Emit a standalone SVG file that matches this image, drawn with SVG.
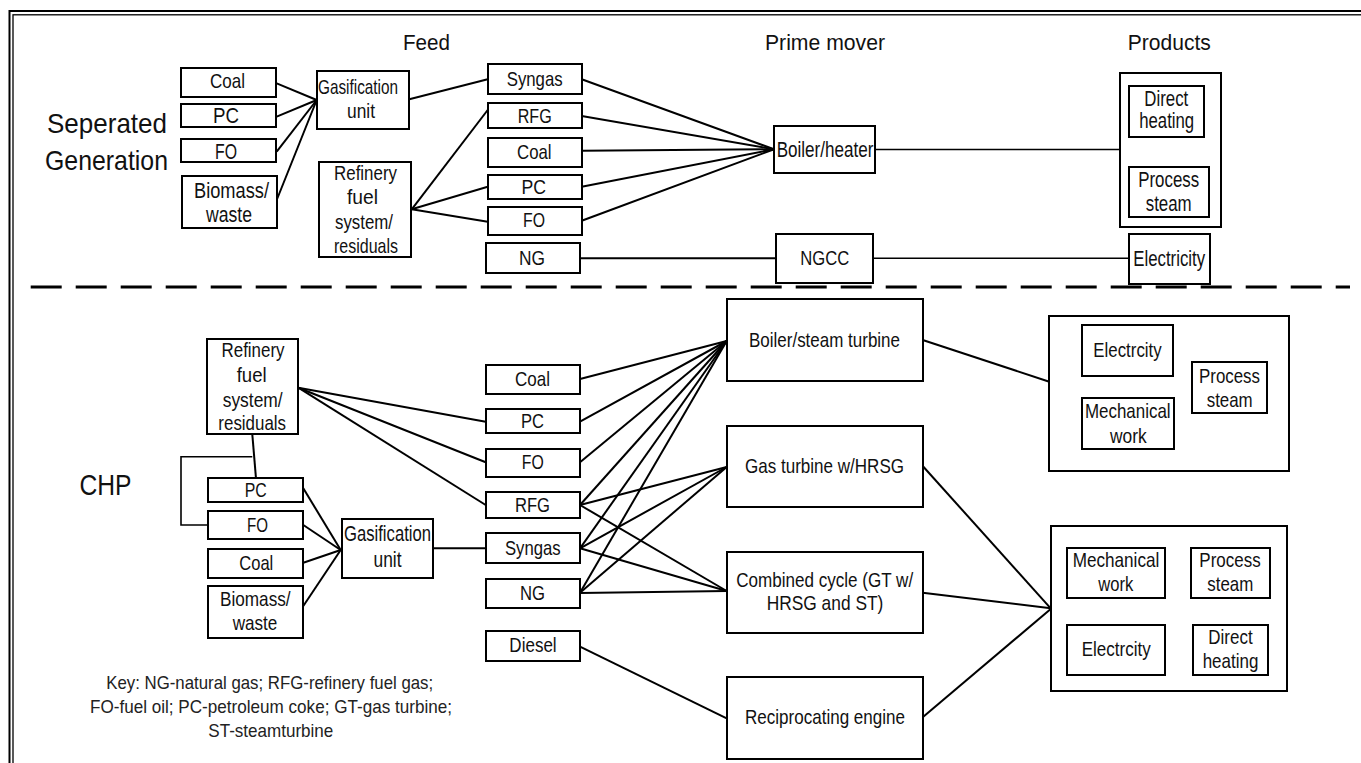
<svg xmlns="http://www.w3.org/2000/svg" width="1361" height="763" viewBox="0 0 1361 763">
  <style>
    .bx { fill: #fff; stroke: #000; stroke-width: 2; }
    .ln { fill: none; stroke: #000; stroke-width: 2; }
    .ln1 { fill: none; stroke: #000; stroke-width: 1.6; }
    text { font-family: "Liberation Sans", Arial, sans-serif; fill: #111; text-anchor: middle; }
    .t20 { font-size: 21px; }
    .t21 { font-size: 22px; }
    .hd { font-size: 22.5px; }
    .big { font-size: 28px; }
    .key { font-size: 18.5px; fill: #222; }
  </style>

  <!-- double frame, runs off the right and bottom edges -->
  <g id="frame">
    <rect x="9.5" y="11" width="1400" height="800" fill="none" stroke="#000" stroke-width="2"/>
    <rect x="13" y="14.8" width="1400" height="800" fill="none" stroke="#000" stroke-width="1.3"/>
  </g>

  <!-- divider between the two schemes -->
  <line id="divider" x1="30.7" y1="287" x2="1350" y2="287" stroke="#000" stroke-width="3" stroke-dasharray="31 14"/>

  <!-- column headings and section titles -->
  <g id="labels">
    <text class="hd" x="426.5" y="50" textLength="47" lengthAdjust="spacingAndGlyphs">Feed</text>
    <text class="hd" x="825" y="50" textLength="120" lengthAdjust="spacingAndGlyphs">Prime mover</text>
    <text class="hd" x="1169.3" y="49.5" textLength="83" lengthAdjust="spacingAndGlyphs">Products</text>
    <text class="big" x="107" y="133" textLength="120" lengthAdjust="spacingAndGlyphs">Seperated</text>
    <text class="big" x="106.5" y="170" textLength="123" lengthAdjust="spacingAndGlyphs">Generation</text>
    <text style="font-size:30px" x="105.5" y="495" textLength="52" lengthAdjust="spacingAndGlyphs">CHP</text>
    <text class="key" x="269.7" y="689.3" textLength="327" lengthAdjust="spacingAndGlyphs">Key: NG-natural gas; RFG-refinery fuel gas;</text>
    <text class="key" x="271" y="713.3" textLength="362" lengthAdjust="spacingAndGlyphs">FO-fuel oil; PC-petroleum coke; GT-gas turbine;</text>
    <text class="key" x="270.8" y="737.3" textLength="125" lengthAdjust="spacingAndGlyphs">ST-steamturbine</text>
  </g>

  <!-- connectors -->
  <g id="connectors">
    <!-- separated generation -->
    <line class="ln" x1="276.7" y1="83.3" x2="316.7" y2="100"/>
    <line class="ln" x1="276.7" y1="116.7" x2="316.7" y2="100"/>
    <line class="ln" x1="276.7" y1="151.7" x2="316.7" y2="100"/>
    <line class="ln" x1="276.7" y1="200" x2="316.7" y2="100"/>
    <line class="ln" x1="409.3" y1="99.3" x2="487.7" y2="79.3"/>
    <line class="ln" x1="411.7" y1="209.3" x2="487.7" y2="110"/>
    <line class="ln" x1="411.7" y1="209.3" x2="487.7" y2="186.7"/>
    <line class="ln" x1="411.7" y1="209.3" x2="487.7" y2="221.7"/>
    <line class="ln" x1="581.7" y1="79.3" x2="774" y2="149.3"/>
    <line class="ln" x1="581.7" y1="116" x2="774" y2="149.3"/>
    <line class="ln" x1="581.7" y1="150.7" x2="774" y2="149.3"/>
    <line class="ln" x1="581.7" y1="186.7" x2="774" y2="149.3"/>
    <line class="ln" x1="581.7" y1="220.7" x2="774" y2="149.3"/>
    <line class="ln" x1="580" y1="258.3" x2="776" y2="258.3"/>
    <line class="ln1" x1="875" y1="149.5" x2="1120" y2="149.5"/>
    <line class="ln1" x1="873" y1="258.3" x2="1129" y2="258.3"/>

    <!-- CHP -->
    <line class="ln" x1="252.3" y1="434.3" x2="256" y2="478.3"/>
    <polyline class="ln1" points="252.3,456.7 181,456.7 181,525 208.3,525"/>
    <line class="ln" x1="298.3" y1="387.7" x2="485.7" y2="421.7"/>
    <line class="ln" x1="298.3" y1="387.7" x2="485.7" y2="462.3"/>
    <line class="ln" x1="298.3" y1="387.7" x2="485.7" y2="505"/>
    <line class="ln" x1="303.3" y1="488.3" x2="340.7" y2="550"/>
    <line class="ln" x1="303.3" y1="525" x2="340.7" y2="550"/>
    <line class="ln" x1="303.3" y1="562.7" x2="340.7" y2="550"/>
    <line class="ln" x1="303.3" y1="606" x2="340.7" y2="550"/>
    <line class="ln" x1="433.3" y1="548.3" x2="485.7" y2="548.3"/>

    <line class="ln" x1="580" y1="379" x2="726.7" y2="341"/>
    <line class="ln" x1="580" y1="421.7" x2="726.7" y2="341"/>
    <line class="ln" x1="580" y1="462.3" x2="726.7" y2="341"/>
    <line class="ln" x1="580" y1="505" x2="726.7" y2="341"/>
    <line class="ln" x1="580" y1="548.3" x2="726.7" y2="341"/>
    <line class="ln" x1="580" y1="592.7" x2="726.7" y2="341"/>

    <line class="ln" x1="580" y1="505" x2="726.7" y2="467"/>
    <line class="ln" x1="580" y1="548.3" x2="726.7" y2="467"/>
    <line class="ln" x1="580" y1="592.7" x2="726.7" y2="467"/>

    <line class="ln" x1="580" y1="505" x2="726.7" y2="591"/>
    <line class="ln" x1="580" y1="548.3" x2="726.7" y2="591"/>
    <line class="ln" x1="580" y1="593" x2="726.7" y2="591"/>

    <line class="ln" x1="580" y1="646.7" x2="726.7" y2="718.3"/>

    <line class="ln" x1="922.7" y1="340" x2="1049.3" y2="381.7"/>
    <line class="ln" x1="922.7" y1="466" x2="1050.7" y2="608.3"/>
    <line class="ln" x1="922.7" y1="592.7" x2="1050.7" y2="608.3"/>
    <line class="ln" x1="922.7" y1="717.3" x2="1050.7" y2="609"/>
  </g>

  <!-- ===== Separated generation: feeds ===== -->
  <g id="sg-coal">
    <rect class="bx" x="181" y="68" width="95" height="29"/>
    <text class="t20" x="227.5" y="88.3" textLength="35" lengthAdjust="spacingAndGlyphs">Coal</text>
  </g>
  <g id="sg-pc">
    <rect class="bx" x="181" y="104" width="95" height="23"/>
    <text class="t21" x="226" y="123" textLength="26" lengthAdjust="spacingAndGlyphs">PC</text>
  </g>
  <g id="sg-fo">
    <rect class="bx" x="181" y="139" width="95" height="23"/>
    <text class="t21" x="226" y="159" textLength="22" lengthAdjust="spacingAndGlyphs">FO</text>
  </g>
  <g id="sg-biomass">
    <rect class="bx" x="182" y="176" width="95" height="52"/>
    <text class="t21" x="231.5" y="198.3" textLength="75" lengthAdjust="spacingAndGlyphs">Biomass/</text>
    <text class="t21" x="229" y="221.7" textLength="46" lengthAdjust="spacingAndGlyphs">waste</text>
  </g>
  <g id="sg-gasification">
    <rect class="bx" x="317" y="71" width="92" height="58"/>
    <text class="t20" x="358" y="94.3" textLength="80" lengthAdjust="spacingAndGlyphs">Gasification</text>
    <text class="t20" x="361" y="118.3" textLength="28" lengthAdjust="spacingAndGlyphs">unit</text>
  </g>
  <g id="sg-refinery">
    <rect class="bx" x="319" y="162" width="92" height="95"/>
    <text class="t20" x="365.5" y="180" textLength="63" lengthAdjust="spacingAndGlyphs">Refinery</text>
    <text class="t20" x="362.5" y="204.3" textLength="31" lengthAdjust="spacingAndGlyphs">fuel</text>
    <text class="t20" x="364" y="229" textLength="58" lengthAdjust="spacingAndGlyphs">system/</text>
    <text class="t20" x="366" y="253" textLength="64" lengthAdjust="spacingAndGlyphs">residuals</text>
  </g>

  <g id="sg-syngas">
    <rect class="bx" x="488" y="64" width="94" height="30"/>
    <text class="t20" x="534.7" y="86" textLength="56" lengthAdjust="spacingAndGlyphs">Syngas</text>
  </g>
  <g id="sg-rfg">
    <rect class="bx" x="488" y="103" width="94" height="25"/>
    <text class="t20" x="534.7" y="122.7" textLength="34" lengthAdjust="spacingAndGlyphs">RFG</text>
  </g>
  <g id="sg-coal2">
    <rect class="bx" x="488" y="138" width="94" height="29"/>
    <text class="t20" x="534.3" y="159.3" textLength="34.5" lengthAdjust="spacingAndGlyphs">Coal</text>
  </g>
  <g id="sg-pc2">
    <rect class="bx" x="488" y="175" width="94" height="24"/>
    <text class="t20" x="533.8" y="194" textLength="24.5" lengthAdjust="spacingAndGlyphs">PC</text>
  </g>
  <g id="sg-fo2">
    <rect class="bx" x="488" y="207" width="94" height="28"/>
    <text class="t20" x="534" y="227.3" textLength="22" lengthAdjust="spacingAndGlyphs">FO</text>
  </g>
  <g id="sg-ng">
    <rect class="bx" x="486" y="243" width="94" height="30"/>
    <text class="t20" x="532" y="265" textLength="26" lengthAdjust="spacingAndGlyphs">NG</text>
  </g>

  <!-- Separated generation: prime movers -->
  <g id="sg-boiler">
    <rect class="bx" x="774" y="126" width="101" height="47"/>
    <text class="t21" x="825" y="157.3" textLength="96.7" lengthAdjust="spacingAndGlyphs">Boiler/heater</text>
  </g>
  <g id="sg-ngcc">
    <rect class="bx" x="776" y="234" width="97" height="49"/>
    <text class="t20" x="824.7" y="265" textLength="49" lengthAdjust="spacingAndGlyphs">NGCC</text>
  </g>

  <!-- Separated generation: products -->
  <g id="sg-heat-products">
    <rect class="bx" x="1120" y="73" width="101" height="154"/>
    <rect class="bx" x="1129" y="86" width="75" height="51"/>
    <text class="t21" x="1166.3" y="106" textLength="44" lengthAdjust="spacingAndGlyphs">Direct</text>
    <text class="t21" x="1166.7" y="128.3" textLength="55" lengthAdjust="spacingAndGlyphs">heating</text>
    <rect class="bx" x="1129" y="167" width="80" height="50"/>
    <text class="t21" x="1168.7" y="186.7" textLength="61" lengthAdjust="spacingAndGlyphs">Process</text>
    <text class="t21" x="1168.7" y="210.7" textLength="46" lengthAdjust="spacingAndGlyphs">steam</text>
  </g>
  <g id="sg-electricity">
    <rect class="bx" x="1129" y="234" width="81" height="50"/>
    <text class="t21" x="1169.2" y="265.7" textLength="72" lengthAdjust="spacingAndGlyphs">Electricity</text>
  </g>

  <!-- ===== CHP: feeds ===== -->
  <g id="chp-refinery">
    <rect class="bx" x="207" y="339" width="91" height="95"/>
    <text class="t20" x="253" y="356.7" textLength="63" lengthAdjust="spacingAndGlyphs">Refinery</text>
    <text class="t20" x="251.7" y="381.7" textLength="30" lengthAdjust="spacingAndGlyphs">fuel</text>
    <text class="t20" x="252.7" y="406.7" textLength="60" lengthAdjust="spacingAndGlyphs">system/</text>
    <text class="t20" x="252.2" y="430" textLength="67.7" lengthAdjust="spacingAndGlyphs">residuals</text>
  </g>
  <g id="chp-pc">
    <rect class="bx" x="208" y="478" width="95" height="24"/>
    <text class="t20" x="255.8" y="497.3" textLength="22" lengthAdjust="spacingAndGlyphs">PC</text>
  </g>
  <g id="chp-fo">
    <rect class="bx" x="208" y="511" width="95" height="28"/>
    <text class="t20" x="257.5" y="531.7" textLength="21" lengthAdjust="spacingAndGlyphs">FO</text>
  </g>
  <g id="chp-coal">
    <rect class="bx" x="208" y="549" width="95" height="29"/>
    <text class="t20" x="256.3" y="570" textLength="34" lengthAdjust="spacingAndGlyphs">Coal</text>
  </g>
  <g id="chp-biomass">
    <rect class="bx" x="208" y="586" width="95" height="52"/>
    <text class="t20" x="255.3" y="606" textLength="70.7" lengthAdjust="spacingAndGlyphs">Biomass/</text>
    <text class="t20" x="255" y="630" textLength="44.7" lengthAdjust="spacingAndGlyphs">waste</text>
  </g>
  <g id="chp-gasification">
    <rect class="bx" x="342" y="519" width="91" height="59"/>
    <text class="t21" x="387.5" y="540.7" textLength="87" lengthAdjust="spacingAndGlyphs">Gasification</text>
    <text class="t21" x="387.5" y="566.7" textLength="28" lengthAdjust="spacingAndGlyphs">unit</text>
  </g>

  <g id="chp-coal2">
    <rect class="bx" x="486" y="365" width="94" height="29"/>
    <text class="t20" x="532.5" y="386" textLength="35" lengthAdjust="spacingAndGlyphs">Coal</text>
  </g>
  <g id="chp-pc2">
    <rect class="bx" x="486" y="409" width="94" height="24"/>
    <text class="t20" x="532.5" y="428.3" textLength="23" lengthAdjust="spacingAndGlyphs">PC</text>
  </g>
  <g id="chp-fo2">
    <rect class="bx" x="486" y="449" width="94" height="28"/>
    <text class="t20" x="532.8" y="469" textLength="22" lengthAdjust="spacingAndGlyphs">FO</text>
  </g>
  <g id="chp-rfg">
    <rect class="bx" x="486" y="492" width="94" height="26"/>
    <text class="t20" x="532.5" y="511.7" textLength="35" lengthAdjust="spacingAndGlyphs">RFG</text>
  </g>
  <g id="chp-syngas">
    <rect class="bx" x="486" y="533" width="94" height="30"/>
    <text class="t20" x="532.8" y="555" textLength="55.7" lengthAdjust="spacingAndGlyphs">Syngas</text>
  </g>
  <g id="chp-ng">
    <rect class="bx" x="486" y="579" width="94" height="29"/>
    <text class="t20" x="532.5" y="600" textLength="25" lengthAdjust="spacingAndGlyphs">NG</text>
  </g>
  <g id="chp-diesel">
    <rect class="bx" x="486" y="631" width="94" height="30"/>
    <text class="t20" x="533" y="652.3" textLength="47.3" lengthAdjust="spacingAndGlyphs">Diesel</text>
  </g>

  <!-- CHP: prime movers -->
  <g id="chp-boiler-st">
    <rect class="bx" x="727" y="299" width="196" height="82"/>
    <text class="t20" x="824.5" y="347.3" textLength="151" lengthAdjust="spacingAndGlyphs">Boiler/steam turbine</text>
  </g>
  <g id="chp-gas-turbine">
    <rect class="bx" x="727" y="426" width="196" height="81"/>
    <text class="t20" x="824.5" y="473.3" textLength="159" lengthAdjust="spacingAndGlyphs">Gas turbine w/HRSG</text>
  </g>
  <g id="chp-combined-cycle">
    <rect class="bx" x="727" y="552" width="196" height="81"/>
    <text class="t20" x="824.7" y="587.3" textLength="177" lengthAdjust="spacingAndGlyphs">Combined cycle (GT w/</text>
    <text class="t20" x="825" y="610" textLength="116.7" lengthAdjust="spacingAndGlyphs">HRSG and ST)</text>
  </g>
  <g id="chp-recip">
    <rect class="bx" x="727" y="677" width="196" height="82"/>
    <text class="t20" x="825" y="724" textLength="160" lengthAdjust="spacingAndGlyphs">Reciprocating engine</text>
  </g>

  <!-- CHP: product groups -->
  <g id="chp-products-steam">
    <rect class="bx" x="1049" y="316" width="240" height="155"/>
    <rect class="bx" x="1082" y="325" width="91" height="51"/>
    <text class="t20" x="1127.5" y="356.7" textLength="68.3" lengthAdjust="spacingAndGlyphs">Electrcity</text>
    <rect class="bx" x="1192" y="362" width="75" height="51"/>
    <text class="t20" x="1229.5" y="382.7" textLength="61" lengthAdjust="spacingAndGlyphs">Process</text>
    <text class="t20" x="1229.7" y="406.7" textLength="46" lengthAdjust="spacingAndGlyphs">steam</text>
    <rect class="bx" x="1082" y="398" width="92" height="51"/>
    <text class="t20" x="1127.8" y="418.3" textLength="85.7" lengthAdjust="spacingAndGlyphs">Mechanical</text>
    <text class="t20" x="1128.3" y="442.7" textLength="36.7" lengthAdjust="spacingAndGlyphs">work</text>
  </g>
  <g id="chp-products-all">
    <rect class="bx" x="1051" y="526" width="236" height="165"/>
    <rect class="bx" x="1067" y="548" width="98" height="50"/>
    <text class="t20" x="1116" y="566.7" textLength="86.7" lengthAdjust="spacingAndGlyphs">Mechanical</text>
    <text class="t20" x="1115.8" y="590.7" textLength="35" lengthAdjust="spacingAndGlyphs">work</text>
    <rect class="bx" x="1191" y="548" width="79" height="50"/>
    <text class="t20" x="1230" y="566.7" textLength="61.3" lengthAdjust="spacingAndGlyphs">Process</text>
    <text class="t20" x="1230.3" y="590.7" textLength="46" lengthAdjust="spacingAndGlyphs">steam</text>
    <rect class="bx" x="1067" y="625" width="98" height="50"/>
    <text class="t20" x="1116.2" y="656" textLength="69" lengthAdjust="spacingAndGlyphs">Electrcity</text>
    <rect class="bx" x="1193" y="625" width="75" height="50"/>
    <text class="t20" x="1230.5" y="644" textLength="44.3" lengthAdjust="spacingAndGlyphs">Direct</text>
    <text class="t20" x="1230.5" y="668.3" textLength="55.7" lengthAdjust="spacingAndGlyphs">heating</text>
  </g>
</svg>
